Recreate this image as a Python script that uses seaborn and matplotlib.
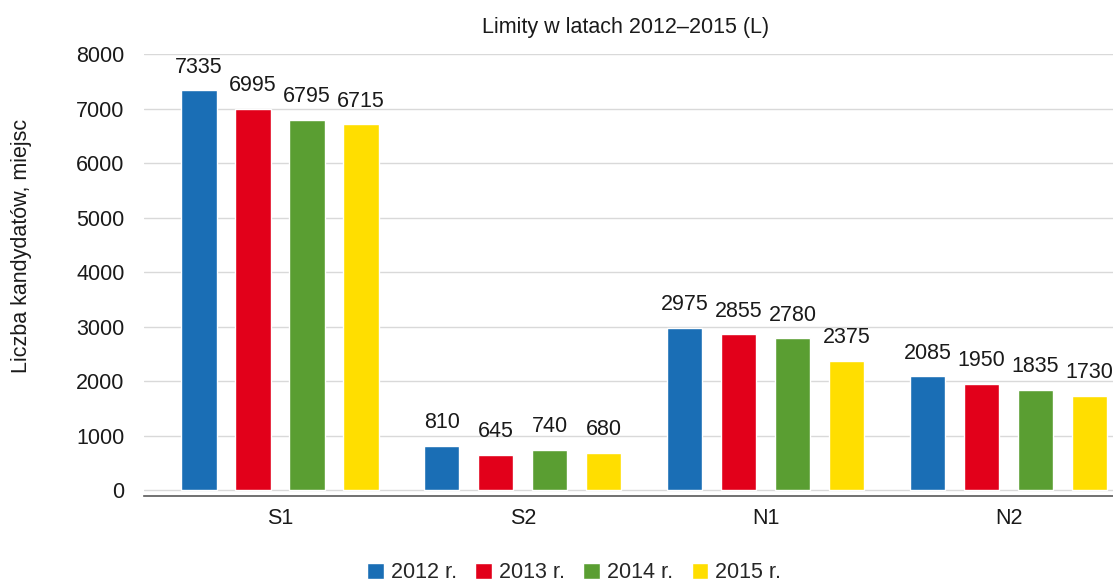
import matplotlib
matplotlib.use("Agg")
import matplotlib.pyplot as plt
import numpy as np
import pandas as pd
import seaborn as sns

# chart data
kategorie = ["S1", "S2", "N1", "N2"]
lata = ["2012 r.", "2013 r.", "2014 r.", "2015 r."]
limity_2012 = [7335, 810, 2975, 2085]
limity_2013 = [6995, 645, 2855, 1950]
limity_2014 = [6795, 740, 2780, 1835]
limity_2015 = [6715, 680, 2375, 1730]
kolory = ["#1a6eb5", "#e2001a", "#5a9e32", "#ffde00"]

tytul = "Limity w latach 2012\u20132015 (L)"
opis_y = "Liczba kandydatów, miejsc"

# build long-form table for seaborn
df = pd.DataFrame({
	"kategoria": kategorie * 4,
	"rok": np.repeat(lata, len(kategorie)),
	"limit": limity_2012 + limity_2013 + limity_2014 + limity_2015,
})

sns.set_theme(style="white")
plt.rcParams["font.family"] = ["Liberation Sans", "DejaVu Sans"]

fig = plt.figure(figsize=(11.13, 5.84), dpi=100)
ax = fig.add_axes([144 / 1113, 1 - 496 / 584, 969 / 1113, 442 / 584])

sns.barplot(data=df, x="kategoria", y="limit", hue="rok", palette=kolory,
	width=0.89, gap=0.35, ax=ax, saturation=1, errorbar=None, zorder=3)

ax.set_ylim(-110, 8000)
ax.set_xlim(-0.56, 3.43)
ax.set_yticks(range(0, 8001, 1000))
ax.yaxis.grid(True, color="#d9d9d9", linewidth=1, zorder=0)
ax.set_axisbelow(True)

for side in ["top", "right", "left"]:
	ax.spines[side].set_visible(False)
ax.spines["bottom"].set_color("#595959")
ax.spines["bottom"].set_linewidth(1.2)

ax.tick_params(axis="y", labelsize=15.5, length=0, pad=14, colors="#1a1a1a")
ax.tick_params(axis="x", labelsize=15.5, length=0, pad=9, colors="#1a1a1a")

ax.set_xlabel("")
ax.set_ylabel(opis_y, fontsize=15.5, color="#1a1a1a")
ax.yaxis.set_label_coords(-0.116, 0.565)

# value labels above bars
for cont in ax.containers:
	ax.bar_label(cont, fmt="%d", padding=9, fontsize=15.5, color="#1a1a1a")

fig.text(0.562, 1 - 28 / 584, tytul, ha="center", va="center", fontsize=15.5,
	color="#1a1a1a")

handles, labels = ax.get_legend_handles_labels()
ax.get_legend().remove()
fig.legend(handles, labels, loc="center", bbox_to_anchor=(0.516, 1 - 573 / 584),
	ncol=4, frameon=False, handlelength=0.75, handleheight=0.75,
	handletextpad=0.35, columnspacing=0.85, prop={"size": 15.5})

fig.savefig("out.png", dpi=100)
